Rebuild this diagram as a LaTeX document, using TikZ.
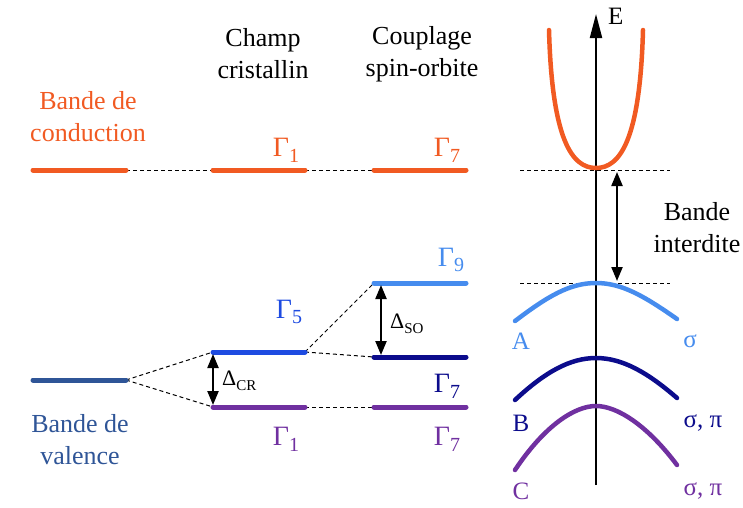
\documentclass[tikz,border=0pt]{standalone}
\usepackage{fontspec}
\setmainfont{Liberation Serif}
\usetikzlibrary{arrows.meta}

\definecolor{orangeCB}{RGB}{241,90,34}
\definecolor{bleuVB}{RGB}{47,85,151}
\definecolor{bleuG}{RGB}{30,75,225}
\definecolor{bleuA}{RGB}{70,140,238}
\definecolor{marineB}{RGB}{12,12,140}
\definecolor{violetC}{RGB}{112,48,160}

% indice abaisse (Gamma_i, Delta_xx)
\newcommand{\ind}[2]{\raisebox{-0.45ex}{\fontsize{#1}{#1}\selectfont #2}}
\newcommand{\Gam}[1]{{\fontsize{28}{28}\selectfont Γ\ind{20}{#1}}}
\newcommand{\Del}[1]{{\fontsize{22}{22}\selectfont Δ\ind{15}{#1}}}

\tikzset{
  texte/.style={font=\fontsize{26}{32}\selectfont, align=center, inner sep=0pt},
  etiq/.style={font=\fontsize{25}{25}\selectfont, inner sep=0pt},
  niveau/.style={line width=5pt, line cap=round},
  lien/.style={dash pattern=on 4pt off 3pt, line width=1pt},
  ecart/.style={arrows={Triangle[length=14pt,width=11pt]-Triangle[length=14pt,width=11pt]}, line width=2.2pt},
  bande/.style={line width=4.5pt, line cap=round},
}

\begin{document}
\begin{tikzpicture}[x=1pt,y=-1pt]
\useasboundingbox (0,0) rectangle (743,507);

% Titres des colonnes
\node[texte] (champ) at (263,54) {Champ\\cristallin};
\node[texte] (coupl) at (422,54) {Couplage\\spin-orbite};
\node[texte, text=orangeCB] (cond) at (88,117) {Bande de\\conduction};
\node[texte, text=bleuVB] (val) at (80,440) {Bande de\\valence};

% Extremites des niveaux
\coordinate (cb0g) at (33,170);  \coordinate (cb0d) at (126,170);
\coordinate (cb1g) at (213,170); \coordinate (cb1d) at (305,170);
\coordinate (cb2g) at (374,170); \coordinate (cb2d) at (466,170);
\coordinate (vb0g) at (33,380);  \coordinate (vb0d) at (126,380);
\coordinate (g5g) at (213,352);  \coordinate (g5d) at (305,352);
\coordinate (g1g) at (213,407);  \coordinate (g1d) at (305,407);
\coordinate (g9g) at (374,283);  \coordinate (g9d) at (466,283);
\coordinate (g7bg) at (374,357); \coordinate (g7bd) at (466,357);
\coordinate (g7cg) at (374,407); \coordinate (g7cd) at (466,407);

% Liens en pointilles
\draw[lien] (cb0d) -- (cb1g);
\draw[lien] (cb1d) -- (cb2g);
\draw[lien] (vb0d) -- (g5g);
\draw[lien] (vb0d) -- (g1g);
\draw[lien] (g5d) -- (g9g);
\draw[lien] (g5d) -- (g7bg);
\draw[lien] (g1d) -- (g7cg);

% Niveaux
\draw[niveau, orangeCB] (cb0g) -- (cb0d);
\draw[niveau, orangeCB] (cb1g) -- (cb1d);
\draw[niveau, orangeCB] (cb2g) -- (cb2d);
\draw[niveau, bleuVB] (vb0g) -- (vb0d);
\draw[niveau, bleuG] (g5g) -- (g5d);
\draw[niveau, violetC] (g1g) -- (g1d);
\draw[niveau, bleuA] (g9g) -- (g9d);
\draw[niveau, marineB] (g7bg) -- (g7bd);
\draw[niveau, violetC] (g7cg) -- (g7cd);

% Etiquettes des niveaux
\node[etiq, text=orangeCB] (lg1c) at (286,150) {\Gam{1}};
\node[etiq, text=orangeCB] (lg7c) at (447,150) {\Gam{7}};
\node[etiq, text=bleuG] (lg5) at (289,312) {\Gam{5}};
\node[etiq, text=bleuA] (lg9) at (451,260) {\Gam{9}};
\node[etiq, text=marineB] (lg7b) at (447,386) {\Gam{7}};
\node[etiq, text=violetC] (lg1) at (286,439) {\Gam{1}};
\node[etiq, text=violetC] (lg7) at (447,439) {\Gam{7}};

% Ecarts Delta
\coordinate (crh) at (213,354); \coordinate (crb) at (213,405);
\coordinate (soh) at (381,285); \coordinate (sob) at (381,355);
\draw[ecart] (crh) -- (crb);
\draw[ecart] (soh) -- (sob);
\node[anchor=west, inner sep=0pt] (dcr) at (222,381) {\Del{CR}};
\node[anchor=west, inner sep=0pt] (dso) at (390,324) {\Del{SO}};

% Diagramme de bandes
\coordinate (axe0) at (596,485); \coordinate (axe1) at (596,14);
\draw[line width=2pt, arrows={-Triangle[length=24pt,width=12pt]}] (axe0) -- (axe1);
\node[etiq, anchor=west] (E) at (608,16) {E};

\coordinate (bcg) at (520,170); \coordinate (bcd) at (670,170);
\coordinate (bvg) at (520,283); \coordinate (bvd) at (670,283);
\draw[lien] (bcg) -- (bcd);
\draw[lien] (bvg) -- (bvd);
\coordinate (gaph) at (617,172); \coordinate (gapb) at (617,281);
\draw[ecart] (gaph) -- (gapb);
\node[texte] (interdite) at (697,228) {Bande\\interdite};

\draw[bande, orangeCB] (549,30) .. controls (552,140) and (572,168) .. (596,168)
  .. controls (620,168) and (640,140) .. (643,30);
\draw[bande, bleuA] (515,321) .. controls (548,296) and (570,283) .. (596,283)
  .. controls (622,283) and (644,296) .. (677,319);
\draw[bande, marineB] (515,400) .. controls (545,372) and (570,358) .. (596,358)
  .. controls (622,358) and (647,372) .. (677,398);
\draw[bande, violetC] (515,470) .. controls (545,425) and (575,406) .. (596,406)
  .. controls (617,406) and (647,425) .. (677,465);

\node[etiq, text=bleuA] (A) at (521,341) {A};
\node[etiq, text=bleuA] (sA) at (690,341) {σ};
\node[etiq, text=marineB] (B) at (521,423) {B};
\node[etiq, text=marineB] (sB) at (703,423) {σ, π};
\node[etiq, text=violetC] (C) at (521,491) {C};
\node[etiq, text=violetC] (sC) at (703,491) {σ, π};
\end{tikzpicture}
\end{document}
